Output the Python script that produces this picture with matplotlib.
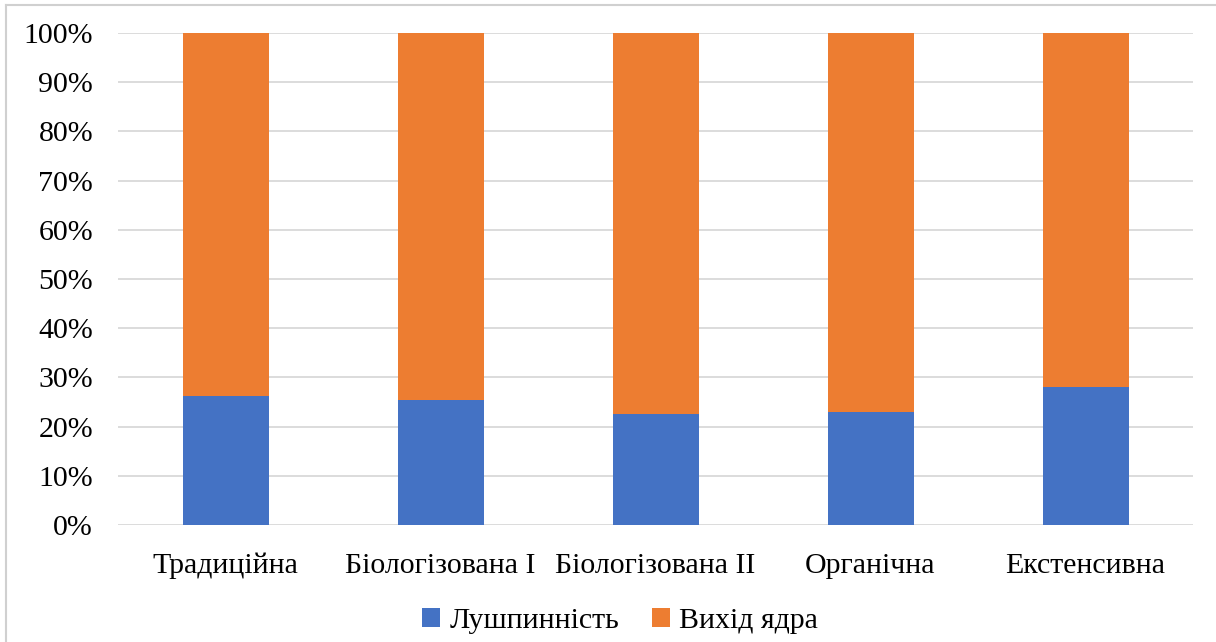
import numpy as np
import matplotlib.pyplot as plt
from matplotlib.lines import Line2D

categories = ['Традиційна', 'Біологізована I', 'Біологізована II', 'Органічна', 'Екстенсивна']
lushpynnist = [26.2, 25.5, 22.6, 22.9, 28.1]
vykhid_yadra = [100 - v for v in lushpynnist]
series_names = ['Лушпинність', 'Вихід ядра']
y_ticks = np.arange(0, 101, 10)

plt.rcParams['font.family'] = ['Liberation Serif', 'DejaVu Serif']

fig = plt.figure(figsize=(12.16, 6.42), dpi=100)
ax = fig.add_axes([118/1216, 1 - 525/642, (1193 - 118)/1216, (525 - 33)/642])

x = np.arange(len(categories))
ax.bar(x, lushpynnist, width=0.4, color='#4472C4', label=series_names[0], zorder=3)
ax.bar(x, vykhid_yadra, width=0.4, bottom=lushpynnist, color='#ED7D31', label=series_names[1], zorder=3)

ax.set_xlim(-0.5, len(categories) - 0.5)
ax.set_ylim(0, 100)
ax.set_yticks(y_ticks)
ax.set_yticklabels([f'{t}%' for t in y_ticks], fontsize=21.5)
ax.set_xticks(x)
ax.set_xticklabels(categories, fontsize=21.5)
ax.tick_params(axis='both', length=0)
ax.tick_params(axis='y', pad=18)
ax.tick_params(axis='x', pad=20)
ax.grid(axis='y', color='#d9d9d9', lw=1.3, zorder=0)
for s in ax.spines.values():
    s.set_visible(False)

fig.legend(loc='center', bbox_to_anchor=(620/1216, 1 - 621/642),
           ncol=2, frameon=False, fontsize=21.5, handlelength=0.6, handleheight=0.6,
           handletextpad=0.3, columnspacing=1.1)

# light border (left and top edges visible in the screenshot)
fig.add_artist(Line2D([6/1216, 6/1216], [0, 1 - 5/642], color='#d0d0d0', lw=1.5, transform=fig.transFigure))
fig.add_artist(Line2D([6/1216, 1], [1 - 5/642, 1 - 5/642], color='#d0d0d0', lw=1.5, transform=fig.transFigure))

fig.savefig('out.png', dpi=100)
